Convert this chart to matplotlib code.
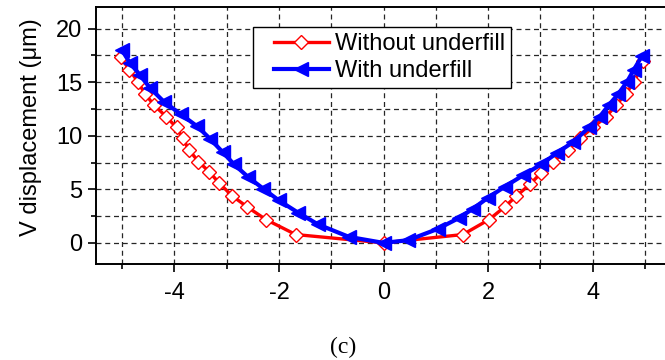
import matplotlib
matplotlib.use("Agg")
import matplotlib.pyplot as plt
from matplotlib.ticker import MultipleLocator
from matplotlib.lines import Line2D
from matplotlib.legend_handler import HandlerLine2D

# red: without underfill
x_without = [-5.03, -4.86, -4.70, -4.56, -4.39, -4.16, -3.96, -3.84, -3.72, -3.54,
             -3.33, -3.14, -2.89, -2.61, -2.25, -1.68, 0.0,
             1.52, 2.02, 2.32, 2.54, 2.80, 3.02, 3.24, 3.53, 3.75, 4.01,
             4.26, 4.45, 4.63, 4.80, 4.97]
y_without = [17.34, 16.18, 15.05, 13.90, 12.87, 11.80, 10.78, 9.75, 8.68, 7.59,
             6.62, 5.56, 4.37, 3.37, 2.18, 0.78, 0.0,
             0.78, 2.18, 3.37, 4.37, 5.46, 6.56, 7.59, 8.68, 9.75, 10.78,
             11.80, 12.87, 13.90, 15.05, 16.95]

# blue: with underfill
x_with = [-5.01, -4.85, -4.66, -4.46, -4.20, -3.88, -3.56, -3.31, -3.08, -2.86,
          -2.59, -2.30, -2.00, -1.63, -1.25, -0.66, 0.0,
          0.47, 1.04, 1.45, 1.71, 2.00, 2.32, 2.67, 3.02, 3.31, 3.63,
          3.93, 4.14, 4.31, 4.49, 4.66, 4.79, 4.95]
y_with = [18.05, 16.80, 15.68, 14.43, 13.18, 12.02, 10.87, 9.68, 8.49, 7.34,
          6.15, 5.06, 3.96, 2.81, 1.72, 0.56, 0.0,
          0.25, 1.31, 2.34, 3.19, 4.22, 5.25, 6.31, 7.34, 8.37, 9.43,
          10.78, 11.80, 12.87, 13.90, 15.05, 16.18, 17.49]

plt.rcParams['font.family'] = ['Liberation Sans', 'DejaVu Sans']
plt.rcParams['axes.unicode_minus'] = False

fig = plt.figure(figsize=(6.65, 3.6), dpi=100)
ax = fig.add_axes([96/665, 1-264.3/360, 575/665, 257/360])

ax.plot(x_without, y_without, color='red', lw=2.4, marker='D', ms=7.5,
        mfc='white', mec='red', mew=1.0, label='Without underfill', zorder=3)
ax.plot(x_with, y_with, color='blue', lw=3, marker='<', ms=10,
        mfc='blue', mec='blue', label='With underfill', zorder=4)

ax.set_xlim(-5.5, 5.5)
ax.set_ylim(-2, 22)
ax.xaxis.set_major_locator(MultipleLocator(2))
ax.xaxis.set_minor_locator(MultipleLocator(1))
ax.yaxis.set_major_locator(MultipleLocator(5))
ax.yaxis.set_minor_locator(MultipleLocator(2.5))

ax.grid(True, which='both', color='0.15', linestyle=(0, (4, 3)), lw=0.9)
ax.set_axisbelow(True)

ax.tick_params(which='major', direction='out', length=6, width=1.2,
               labelsize=17, colors='black')
ax.tick_params(axis='x', which='major', pad=7)
ax.tick_params(axis='y', which='major', pad=4)
ax.tick_params(which='minor', direction='out', length=3.5, width=1.2)
for s in ax.spines.values():
    s.set_linewidth(1.4)

ax.set_ylabel('V displacement (\u03bcm)', fontsize=17)
ax.yaxis.set_label_coords(-0.094, 0.532)

leg = ax.legend(loc='upper left', bbox_to_anchor=(0.2736, 0.922),
                borderaxespad=0, fontsize=17, fancybox=False,
                edgecolor='black', framealpha=1, handlelength=2.95,
                handletextpad=0.25, borderpad=0.25, labelspacing=0.2,
                handler_map={Line2D: HandlerLine2D(xpad=0.62)})
leg.get_frame().set_linewidth(1.0)

fig.text(343/665, 1-347/360, '(c)', family='Liberation Serif', fontsize=17,
         ha='center', va='center')

fig.savefig('out.png', dpi=100)
